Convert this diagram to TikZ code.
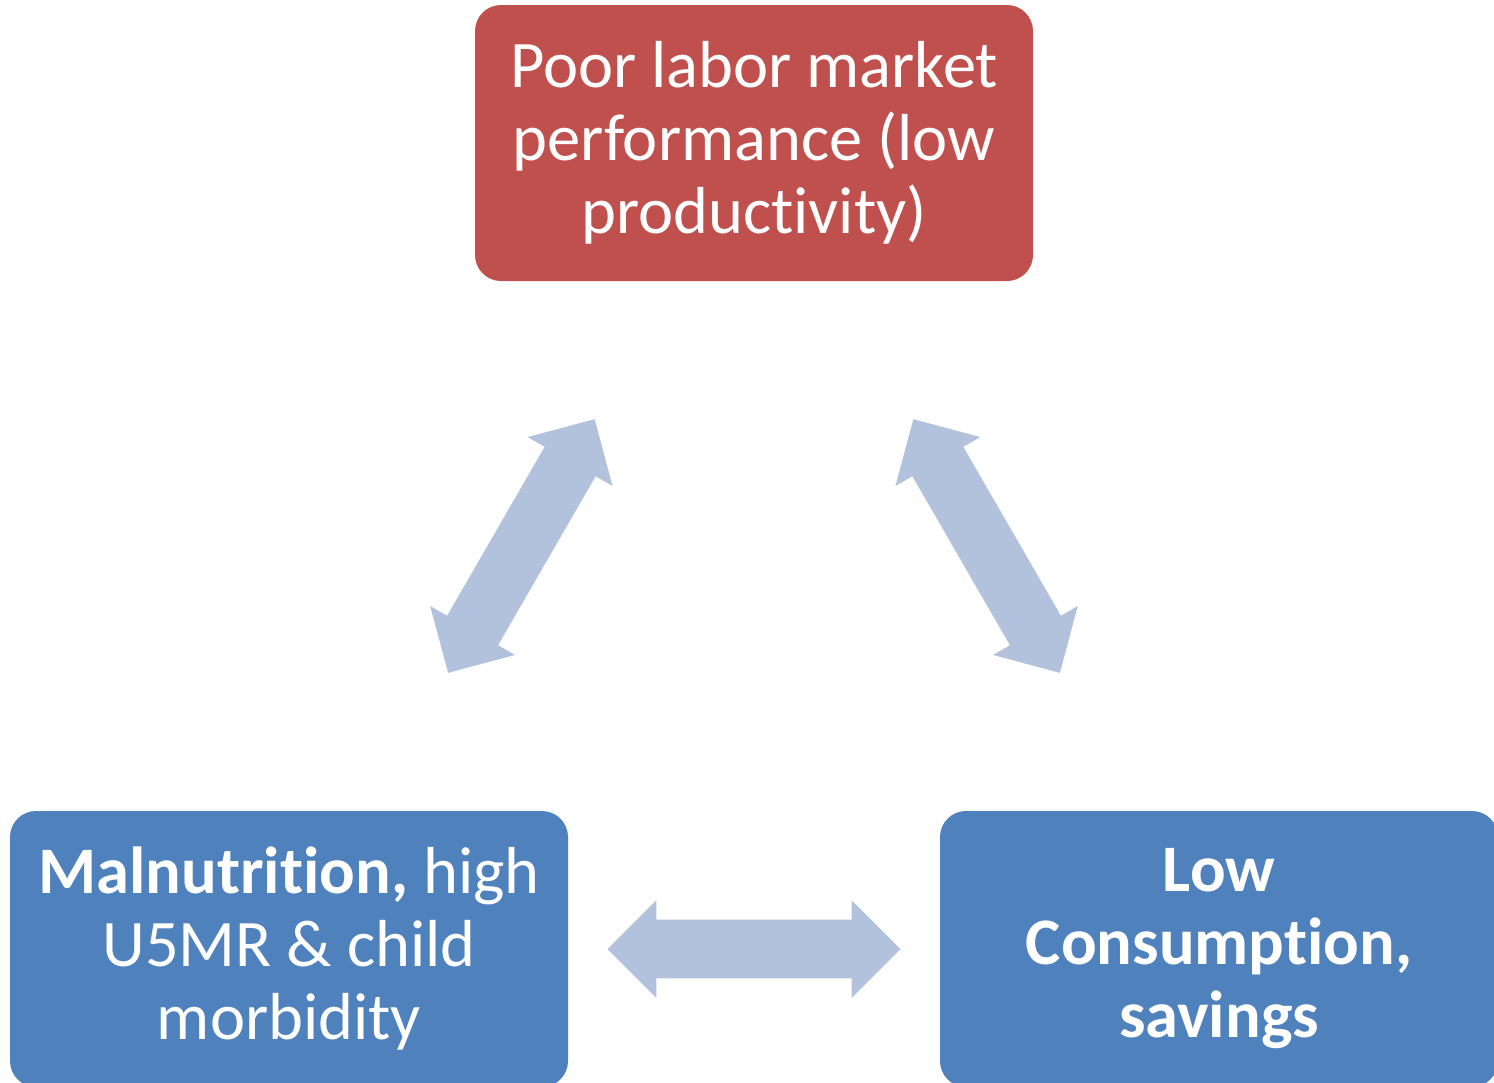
\documentclass[tikz,border=0pt]{standalone}
\usepackage{fontspec}
\setmainfont{Carlito}[Ligatures=NoCommon]
\usetikzlibrary{shapes.arrows}
\definecolor{boxred}{HTML}{C0504D}
\definecolor{boxblue}{HTML}{4F81BD}
\definecolor{arrowblue}{HTML}{B2C1DC}
\begin{document}
\begin{tikzpicture}[x=1pt,y=-1pt,
    box/.style={rectangle,rounded corners=26pt,minimum width=558pt,minimum height=276pt,
      text=white,align=center,inner sep=0pt,font=\fontsize{66.5}{73}\selectfont},
    dblarrow/.style={double arrow,fill=arrowblue,minimum height=293pt,minimum width=97pt,
      double arrow head extend=19.5pt,double arrow tip angle=90,inner xsep=0pt,inner ysep=29.25pt}]
  \clip (0,0) rectangle (1494,1082);
  \node[box,fill=boxred](poor)at(754,143){Poor labor market\\performance (low\\productivity)};
  \node[box,fill=boxblue](maln)at(289,949){\textbf{Malnutrition,} high\\U5MR \& child\\morbidity};
  \node[box,fill=boxblue,font=\fontsize{66.5}{73}\selectfont\bfseries](cons)at(1219,949){Low\\Consumption,\\savings};
  % arrows between the boxes
  \path(poor)--(maln)node[midway,sloped,dblarrow](a1){};
  \path(poor)--(cons)node[midway,sloped,dblarrow](a2){};
  \path(maln)--(cons)node[midway,sloped,dblarrow](a3){};
\end{tikzpicture}
\end{document}
